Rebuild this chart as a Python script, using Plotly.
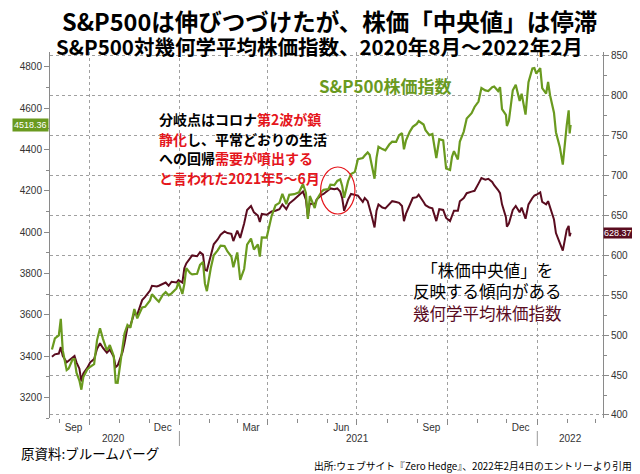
import plotly.graph_objects as go

dates = [
    "2020-08-24", "2020-08-27", "2020-08-31", "2020-09-02", "2020-09-04", "2020-09-08", "2020-09-10",
    "2020-09-14", "2020-09-16", "2020-09-18", "2020-09-21", "2020-09-23", "2020-09-25", "2020-09-29",
    "2020-10-02", "2020-10-06", "2020-10-09", "2020-10-12", "2020-10-15", "2020-10-19", "2020-10-22",
    "2020-10-26", "2020-10-28", "2020-10-30", "2020-11-04", "2020-11-06", "2020-11-09", "2020-11-12",
    "2020-11-16", "2020-11-19", "2020-11-24", "2020-11-27", "2020-12-02", "2020-12-04", "2020-12-09",
    "2020-12-11", "2020-12-15", "2020-12-18", "2020-12-21", "2020-12-24", "2020-12-29", "2020-12-31",
    "2021-01-04", "2021-01-06", "2021-01-08", "2021-01-12", "2021-01-14", "2021-01-19", "2021-01-22",
    "2021-01-25", "2021-01-27", "2021-01-29", "2021-02-02", "2021-02-05", "2021-02-09", "2021-02-12",
    "2021-02-16", "2021-02-19", "2021-02-23", "2021-02-25", "2021-03-01", "2021-03-04", "2021-03-08",
    "2021-03-11", "2021-03-15", "2021-03-18", "2021-03-22", "2021-03-24", "2021-03-26", "2021-03-31",
    "2021-04-05", "2021-04-09", "2021-04-13", "2021-04-16", "2021-04-20", "2021-04-23", "2021-04-28",
    "2021-05-03", "2021-05-07", "2021-05-10", "2021-05-12", "2021-05-14", "2021-05-19", "2021-05-21",
    "2021-05-26", "2021-05-28", "2021-06-02", "2021-06-04", "2021-06-08", "2021-06-11", "2021-06-14",
    "2021-06-16", "2021-06-18", "2021-06-22", "2021-06-25", "2021-06-29", "2021-07-02", "2021-07-07",
    "2021-07-09", "2021-07-12", "2021-07-14", "2021-07-16", "2021-07-19", "2021-07-21", "2021-07-23",
    "2021-07-27", "2021-07-30", "2021-08-03", "2021-08-06", "2021-08-10", "2021-08-13", "2021-08-16",
    "2021-08-18", "2021-08-20", "2021-08-24", "2021-08-27", "2021-08-31", "2021-09-02", "2021-09-07",
    "2021-09-09", "2021-09-13", "2021-09-16", "2021-09-20", "2021-09-23", "2021-09-27", "2021-09-30",
    "2021-10-04", "2021-10-06", "2021-10-08", "2021-10-12", "2021-10-14", "2021-10-18", "2021-10-21",
    "2021-10-26", "2021-10-29", "2021-11-02", "2021-11-05", "2021-11-09", "2021-11-12", "2021-11-16",
    "2021-11-18", "2021-11-22", "2021-11-24", "2021-11-26", "2021-11-30", "2021-12-01", "2021-12-03",
    "2021-12-07", "2021-12-10", "2021-12-14", "2021-12-16", "2021-12-20", "2021-12-23", "2021-12-27",
    "2021-12-29", "2021-12-31", "2022-01-04", "2022-01-06", "2022-01-10", "2022-01-12", "2022-01-14",
    "2022-01-18", "2022-01-20", "2022-01-24", "2022-01-27", "2022-01-31", "2022-02-02", "2022-02-03",
    "2022-02-04",
]

sp500 = [
    3431, 3485, 3500, 3580, 3427, 3332, 3339,
    3383, 3385, 3319, 3281, 3237, 3298, 3335,
    3348, 3361, 3477, 3534, 3483, 3427, 3453,
    3400, 3271, 3270, 3443, 3509, 3550, 3537,
    3627, 3582, 3635, 3638, 3669, 3699, 3672,
    3663, 3695, 3709, 3694, 3703, 3727, 3756,
    3700, 3748, 3825, 3801, 3795, 3798, 3841,
    3855, 3750, 3714, 3826, 3887, 3911, 3934,
    3932, 3906, 3881, 3829, 3901, 3768, 3821,
    3939, 3968, 3915, 3940, 3881, 3974, 3973,
    4077, 4129, 4141, 4185, 4135, 4180, 4183,
    4192, 4232, 4189, 4063, 4174, 4116, 4156,
    4195, 4204, 4208, 4229, 4227, 4247, 4255,
    4223, 4166, 4246, 4281, 4291, 4352, 4358,
    4370, 4385, 4374, 4327, 4258, 4359, 4412,
    4401, 4395, 4423, 4437, 4436, 4468, 4479,
    4400, 4442, 4486, 4509, 4523, 4537, 4520,
    4493, 4469, 4474, 4358, 4449, 4443, 4307,
    4300, 4364, 4391, 4351, 4438, 4486, 4549,
    4575, 4605, 4631, 4697, 4685, 4682, 4701,
    4704, 4682, 4701, 4595, 4567, 4513, 4538,
    4686, 4712, 4634, 4669, 4568, 4725, 4791,
    4793, 4766, 4793, 4696, 4670, 4726, 4662,
    4577, 4483, 4410, 4326, 4516, 4589, 4477,
    4518.36,
]

geo_index = [
    473, 476, 477, 485, 474, 466, 468,
    472, 474, 466, 458, 442, 452, 459,
    466, 470, 483, 490, 484, 478, 482,
    473, 460, 462, 479, 490, 510, 512,
    528, 526, 544, 548, 556, 562, 561,
    562, 564, 566, 562, 567, 566, 569,
    566, 584, 590, 596, 600, 599, 604,
    601, 582, 581, 598, 614, 620, 626,
    630, 628, 627, 618, 631, 622, 640,
    657, 662, 654, 650, 642, 652, 651,
    655, 656, 658, 664, 658, 665, 670,
    675, 680, 670, 648, 665, 664, 670,
    676, 677, 682, 684, 683, 684, 680,
    672, 656, 670, 677, 676, 675, 667,
    672, 668, 660, 650, 635, 656, 664,
    660, 659, 664, 668, 667, 666, 662,
    643, 652, 664, 672, 673, 676, 667,
    663, 660, 659, 643, 658, 657, 647,
    643, 650, 656, 656, 668, 672, 678,
    680, 681, 690, 697, 695, 696, 692,
    688, 682, 678, 664, 648, 636, 640,
    657, 662, 654, 660, 646, 664, 672,
    675, 676, 679, 667, 664, 668, 660,
    645, 628, 614, 606, 632, 637, 624,
    628.37,
]

month_ticks = ["2020-09-15", "2020-12-15", "2021-03-15", "2021-06-15", "2021-09-15", "2021-12-15"]
month_labels = ["Sep", "Dec", "Mar", "Jun", "Sep", "Dec"]
quarter_ticks = ["2020-10-01", "2021-01-01", "2021-04-01", "2021-07-01", "2021-10-01", "2022-01-01"]
years = ["2020", "2021", "2022"]
year_centers = ["2020-10-26", "2021-07-02", "2022-02-04"]

GREEN = "#6a9a1f"
MAROON = "#5a0c1f"
RED = "#e5161c"
AX = "#8a8a8a"
TICKFONT = dict(family="Liberation Sans Narrow, Liberation Sans, Arial", size=10, color="#333")
JP = "Noto Sans CJK JP"

X_RANGE = ["2020-08-22", "2022-03-09"]

# the page body has an 8px margin, so the figure sits at (8, 8) in the window.
# plot box in window pixels: x 41..605, y 52..418
def px(x):
    return (x - 41) / 564

def py(y):
    return (418 - y) / 366


fig = go.Figure()

fig.add_trace(go.Scatter(x=dates, y=geo_index, mode="lines", line=dict(color=MAROON, width=2),
                         xaxis="x", yaxis="y", showlegend=False))
fig.add_trace(go.Scatter(x=dates, y=sp500, mode="lines", line=dict(color=GREEN, width=2.2),
                         xaxis="x2", yaxis="y2", showlegend=False))

fig.update_layout(
    width=632, height=466,
    margin=dict(l=33, r=35, t=44, b=56),
    paper_bgcolor="white", plot_bgcolor="white",
    xaxis=dict(type="date", range=X_RANGE, tickmode="array", tickvals=month_ticks, ticktext=month_labels,
               ticks="", ticklen=0, showgrid=False, showline=False, zeroline=False,
               tickfont=TICKFONT, ticklabelstandoff=2,
               minor=dict(tickmode="linear", tick0="2020-08-01", dtick="M1", ticks="outside",
                          ticklen=4, tickcolor=AX, showgrid=False)),
    xaxis2=dict(type="date", range=X_RANGE, overlaying="x", side="bottom", tickmode="array",
                tickvals=quarter_ticks, showticklabels=False, ticks="outside", ticklen=6,
                tickcolor=AX, showgrid=True, gridcolor="#a0a0a0", griddash="dot", gridwidth=1,
                showline=False, zeroline=False),
    yaxis=dict(range=[396.2, 855], side="right", dtick=50, tick0=400, ticks="outside", ticklen=5,
               tickcolor=AX, showline=True, linecolor=AX, linewidth=1, showgrid=True,
               gridcolor="#a0a0a0", griddash="dot", zeroline=False, tickfont=TICKFONT,
               minor=dict(dtick=25, tick0=400, ticks="outside", ticklen=3, tickcolor=AX, showgrid=False)),
    yaxis2=dict(range=[3100, 4871], side="left", overlaying="y", dtick=200, tick0=3200, ticks="outside",
                ticklen=5, tickcolor=AX, showline=True, linecolor=AX, linewidth=1, showgrid=False,
                zeroline=False, tickfont=TICKFONT,
                minor=dict(dtick=100, tick0=3200, ticks="outside", ticklen=3, tickcolor=AX)),
)

ann = []
# titles
ann.append(dict(text="<b>S&P500は伸びつづけたが、株価「中央値」は停滞</b>", x=px(326), y=py(21),
                font=dict(family=JP, size=23.5, color="black")))
ann.append(dict(text="<b>S&P500対幾何学平均株価指数、2020年8月～2022年2月</b>", x=px(316), y=py(46),
                font=dict(family=JP, size=20.5, color="black")))
# series label
ann.append(dict(text="<b>S&P500株価指数</b>", x=px(383), y=py(85),
                font=dict(family=JP, size=17, color=GREEN)))
# comment block
red = lambda s: f"<span style='color:{RED}'>{s}</span>"
comment = [
    "分岐点はコロナ" + red("第2波が鎮"),
    red("静化") + "し、平常どおりの生活",
    "への回帰" + red("需要が噴出する"),
    red("と言われた2021年5～6月"),
]
for i, line in enumerate(comment):
    ann.append(dict(text=f"<b>{line}</b>", x=px(150), y=py(119 + 19.7 * i), xanchor="left",
                    font=dict(family=JP, size=14, color="black")))
# lower right note
note = ["「株価中央値」を", "反映する傾向がある", f"<span style='color:{MAROON}'>幾何学平均株価指数</span>"]
ann.append(dict(text="<br>".join(note), x=px(487), y=py(291),
                font=dict(family=JP, size=16.5, color="black")))
# years
for yr, c in zip(years, year_centers):
    ann.append(dict(text=yr, x=c, xref="x", y=py(438), font=TICKFONT))
# value tags
ann.append(dict(text="4518.36", x=0, xanchor="right", xshift=-1, y=sp500[-1], yref="y2",
                bgcolor=GREEN, borderpad=1, font=dict(family=TICKFONT["family"], size=9, color="white")))
ann.append(dict(text="628.37", x=1, xanchor="left", xshift=0, y=geo_index[-1], yref="y",
                bgcolor=MAROON, borderpad=0, font=dict(family=TICKFONT["family"], size=9, color="white")))
# sources
ann.append(dict(text="原資料:ブルームバーグ", x=px(9), xanchor="left", y=py(453),
                font=dict(family=JP, size=13.5, color="black")))
ann.append(dict(text="出所:ウェブサイト『Zero Hedge』、2022年2月4日のエントリーより引用", x=px(637),
                xanchor="right", y=py(466), font=dict(family=JP, size=9.8, color="black")))

for a in ann:
    a.setdefault("xref", "paper")
    a.setdefault("yref", "paper")
    a.setdefault("showarrow", False)
    a.setdefault("yanchor", "middle")
    a.setdefault("xanchor", "center")
fig.update_layout(annotations=ann)

shapes = [
    dict(type="circle", xref="x", yref="paper", x0="2021-05-25", x1="2021-06-29",
         y0=py(214), y1=py(167), line=dict(color=RED, width=1.2)),
]
for d in ["2021-01-01", "2022-01-01"]:
    shapes.append(dict(type="line", xref="x", yref="paper", x0=d, x1=d, y0=py(431), y1=py(446),
                       line=dict(color="#999", width=1)))
fig.update_layout(shapes=shapes)

fig.write_html("out.html")
